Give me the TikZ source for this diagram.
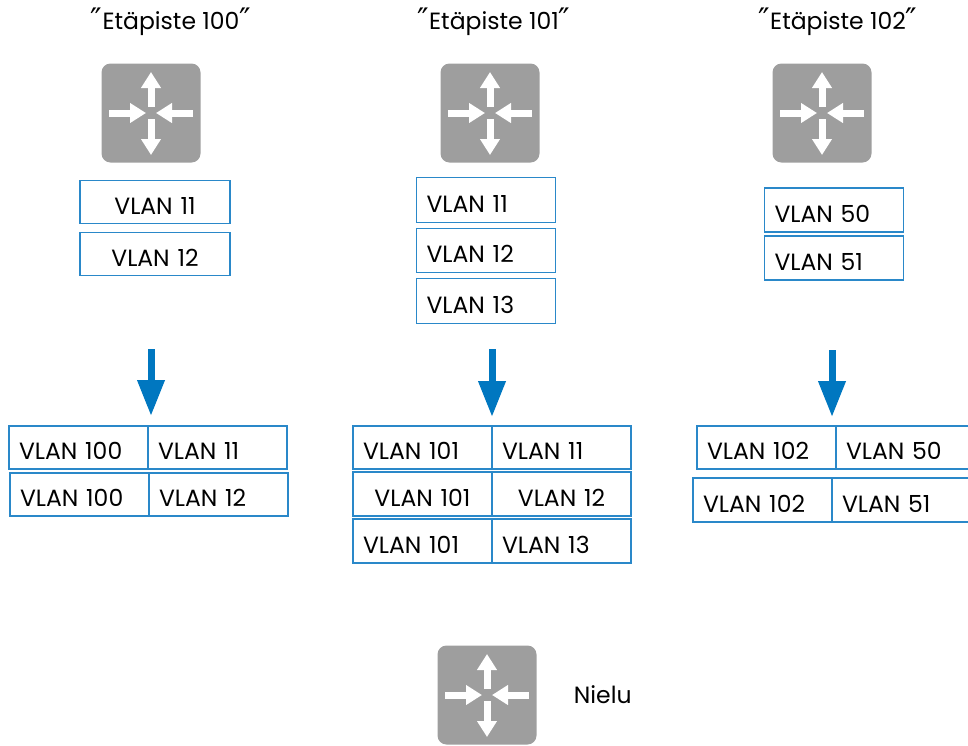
\documentclass[tikz,border=0pt]{standalone}
\usepackage{fontspec}
\setmainfont{Poppins}
\newfontfamily\quotefont{DejaVu Sans}
\usetikzlibrary{positioning, arrows.meta}

\definecolor{routergray}{HTML}{9E9E9E}
\definecolor{boxblue}{HTML}{2A88C9}
\definecolor{arrowblue}{HTML}{0077C0}
\newcommand\vlanfont{\fontsize{23.5}{27}\selectfont}
\newcommand\qm{{\quotefont\fontsize{31}{31}\selectfont\raisebox{-1.5pt}{″}}}

\tikzset{
  router/.style={fill=routergray, rounded corners=9pt, minimum size=99pt, inner sep=0pt,
    path picture={
      \begin{scope}[shift={(path picture bounding box.center)}, white, line width=7pt,
                    -{Triangle[width=19pt,length=16pt]}]
        \draw (0,6) -- (0,41);
        \draw (0,-6) -- (0,-42);
        \draw (-42,0) -- (-5,0);
        \draw (42,0) -- (5,0);
      \end{scope}}},
  label/.style={font=\vlanfont, inner sep=0pt},
  cell/.style={draw=boxblue, line width=1.4pt, outer sep=0pt, minimum height=43pt,
    inner xsep=10pt, text width=119pt, text height=24.5pt, text depth=0pt,
    align=left, font=\vlanfont},
  bigarrow/.style={arrowblue, line width=7pt, -{Triangle[width=26pt,length=36pt]}}
}

\begin{document}
\begin{tikzpicture}[x=1pt, y=1pt, node distance=6pt]
  \useasboundingbox (0,0) rectangle (968,-745);
  \clip (0,0) rectangle (968,-745);

  % Etapisteet
  \node[label] (t100) at (171,-22) {\qm Etäpiste 100\qm};
  \node[label] (t101) at (494,-22) {\qm Etäpiste 101\qm};
  \node[label] (t102) at (838,-22) {\qm Etäpiste 102\qm};
  \node[router] (r100) at (151,-113) {};
  \node[router] (r101) at (490,-113) {};
  \node[router] (r102) at (822,-113) {};

  % VLANit ennen
  \node[cell, text width=130pt, align=center] (v11) at (155,-202) {VLAN 11};
  \node[cell, text width=130pt, align=center, below=9pt of v11] (v12) {VLAN 12};
  \node[cell, minimum height=45pt] (w11) at (486,-200) {VLAN 11};
  \node[cell, minimum height=44pt, below=of w11] (w12) {VLAN 12};
  \node[cell, minimum height=45pt, below=of w12] (w13) {VLAN 13};
  \node[cell, minimum height=44pt] (x50) at (834,-210) {VLAN 50};
  \node[cell, minimum height=44pt, below=4pt of x50] (x51) {VLAN 51};

  % nuolet
  \coordinate (s100) at (151,-349);
  \coordinate (e100) at (151,-416);
  \coordinate (s101) at (492,-349);
  \coordinate (e101) at (492,-417);
  \coordinate (s102) at (832,-350);
  \coordinate (e102) at (832,-417);
  \draw[bigarrow] (s100) -- (e100);
  \draw[bigarrow] (s101) -- (e101);
  \draw[bigarrow] (s102) -- (e102);

  % VLANit jalkeen
  \node[cell, anchor=north west] (c100a) at (9,-426) {VLAN 100};
  \node[cell, right=0pt of c100a] (c11) {VLAN 11};
  \node[cell, anchor=north west] (c100b) at (10,-473) {VLAN 100};
  \node[cell, right=0pt of c100b] (c12) {VLAN 12};

  \node[cell, anchor=north west] (d101a) at (353,-426) {VLAN 101};
  \node[cell, right=0pt of d101a] (d11) {VLAN 11};
  \node[cell, align=center, anchor=north west, minimum height=44pt] (d101b) at (353,-472) {VLAN 101};
  \node[cell, align=center, right=0pt of d101b, minimum height=44pt] (d12) {VLAN 12};
  \node[cell, anchor=north west, minimum height=44pt] (d101c) at (353,-519) {VLAN 101};
  \node[cell, right=0pt of d101c, minimum height=44pt] (d13) {VLAN 13};

  \node[cell, anchor=north west] (e102a) at (697,-426) {VLAN 102};
  \node[cell, right=0pt of e102a] (e50) {VLAN 50};
  \node[cell, anchor=north west, minimum height=44pt] (e102b) at (693,-478) {VLAN 102};
  \node[cell, right=0pt of e102b, minimum height=44pt] (e51) {VLAN 51};

  % nielu
  \node[router] (nielu) at (487,-695) {};
  \node[label, right=37pt of nielu] (nielulabel) {Nielu};
\end{tikzpicture}
\end{document}
